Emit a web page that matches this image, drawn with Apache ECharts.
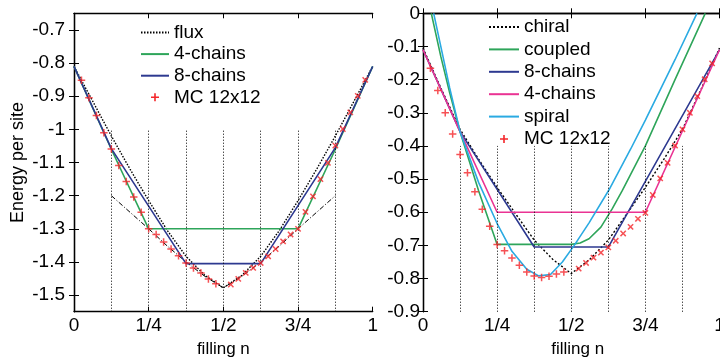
<!DOCTYPE html>
<html><head><meta charset="utf-8">
<script src="https://cdn.jsdelivr.net/npm/echarts@6/dist/echarts.min.js"></script>
<style>html,body{margin:0;padding:0;background:#fff}#c{width:720px;height:358px}</style>
</head><body><div id="c"></div>
<script>
// ---- tick labels ----
const xTickValues = [0, 0.25, 0.5, 0.75, 1];
const xTickLabels = ['0', '1/4', '1/2', '3/4', '1'];
const leftYTicks = [-1.5, -1.4, -1.3, -1.2, -1.1, -1, -0.9, -0.8, -0.7];
const rightYTicks = [-0.9, -0.8, -0.7, -0.6, -0.5, -0.4, -0.3, -0.2, -0.1, 0];
const guideN = [0.125, 0.25, 0.375, 0.5, 0.625, 0.75, 0.875];
const leftGuideTop = -1.0;
const rightGuideTop = -0.4;

// ---- left panel ----
const fluxN = [0, 0.0625, 0.125, 0.1875, 0.25, 0.3125, 0.375, 0.4375, 0.5, 0.5625, 0.625, 0.6875, 0.75, 0.8125, 0.875, 0.9375, 1];
const fluxE = [-0.81, -0.915, -1.02, -1.12, -1.215, -1.305, -1.383, -1.44, -1.478, -1.44, -1.383, -1.305, -1.215, -1.12, -1.02, -0.915, -0.81];
const fluxRefN = [0.125, 0.1875, 0.25, 0.3125, 0.375, 0.4375, 0.5, 0.5625, 0.625, 0.6875, 0.75, 0.8125, 0.875];
const fluxRefE = [-1.2, -1.25, -1.3, -1.352, -1.4, -1.443, -1.478, -1.443, -1.4, -1.352, -1.3, -1.25, -1.2];
const left4N = [0, 0.125, 0.25, 0.75, 0.875, 1];
const left4E = [-0.81, -1.06, -1.30, -1.30, -1.06, -0.81];
const left8N = [0, 0.125, 0.375, 0.625, 0.875, 1];
const left8E = [-0.81, -1.058, -1.405, -1.405, -1.055, -0.81];
const leftMcAN = [0.025, 0.05, 0.075, 0.1, 0.125, 0.15, 0.175, 0.2, 0.225, 0.25, 0.275, 0.3, 0.325, 0.35, 0.375, 0.4, 0.425, 0.45, 0.475];
const leftMcAE = [-0.852, -0.905, -0.958, -1.010, -1.059, -1.109, -1.157, -1.204, -1.250, -1.300, -1.317, -1.340, -1.361, -1.381, -1.403, -1.418, -1.433, -1.451, -1.466];
const leftMcBN = [0.525, 0.55, 0.575, 0.6, 0.625, 0.65, 0.675, 0.7, 0.725, 0.75, 0.775, 0.8, 0.825, 0.85, 0.875, 0.9, 0.925, 0.95, 0.975];
const leftMcBE = [-1.468, -1.451, -1.433, -1.418, -1.403, -1.383, -1.361, -1.338, -1.317, -1.300, -1.249, -1.202, -1.150, -1.101, -1.049, -0.999, -0.949, -0.899, -0.851];

// ---- right panel ----
const chiralN = [0, 0.0625, 0.125, 0.1875, 0.25, 0.3125, 0.375, 0.4375, 0.5, 0.5625, 0.625, 0.6875, 0.75, 0.8125, 0.875, 0.9375, 1];
const chiralE = [-0.105, -0.23, -0.35, -0.44, -0.525, -0.605, -0.684, -0.742, -0.785, -0.742, -0.684, -0.605, -0.525, -0.44, -0.35, -0.23, -0.105];
const coupledN = [0.028, 0.06, 0.09, 0.125, 0.1875, 0.25, 0.5, 0.53, 0.56, 0.6, 0.638, 0.672, 0.75, 0.85, 0.952];
const coupledE = [0, -0.13, -0.24, -0.357, -0.535, -0.697, -0.697, -0.693, -0.68, -0.645, -0.59, -0.535, -0.40, -0.20, 0];
const right8N = [0, 0.125, 0.375, 0.625, 1];
const right8E = [-0.11, -0.357, -0.705, -0.705, -0.11];
const right4N = [0, 0.125, 0.25, 0.75, 0.875, 1];
const right4E = [-0.11, -0.357, -0.60, -0.60, -0.355, -0.11];
const spiralN = [0.036, 0.06, 0.09, 0.125, 0.1875, 0.25, 0.3, 0.35, 0.39, 0.43, 0.47, 0.51, 0.56, 0.627, 0.7, 0.75, 0.85, 0.924];
const spiralE = [0, -0.1, -0.225, -0.357, -0.51, -0.634, -0.718, -0.772, -0.792, -0.788, -0.75, -0.70, -0.632, -0.533, -0.41, -0.322, -0.14, 0];
const rightMcAN = [0.025, 0.05, 0.075, 0.1, 0.125, 0.15, 0.175, 0.2, 0.225, 0.25, 0.275, 0.3, 0.325, 0.35, 0.375, 0.4, 0.425, 0.45, 0.475];
const rightMcAE = [-0.166, -0.233, -0.300, -0.364, -0.426, -0.481, -0.538, -0.591, -0.642, -0.697, -0.716, -0.738, -0.760, -0.780, -0.792, -0.797, -0.793, -0.786, -0.780];
const rightMcBN = [0.525, 0.55, 0.575, 0.6, 0.625, 0.65, 0.675, 0.7, 0.725, 0.75, 0.775, 0.8, 0.825, 0.85, 0.875, 0.9, 0.925, 0.95, 0.975];
const rightMcBE = [-0.770, -0.753, -0.737, -0.722, -0.706, -0.686, -0.664, -0.644, -0.620, -0.602, -0.548, -0.498, -0.451, -0.399, -0.350, -0.300, -0.250, -0.199, -0.151];

const FONT = 'Liberation Sans, Arial, Helvetica, sans-serif';
const GREEN = '#2ea55a', NAVY = '#2d3990', PINK = '#ea3393', SKY = '#2aaae2', RED = '#f4262a';
const PLUS = 'path://M4,0H6V4H10V6H6V10H4V6H0V4H4Z';
const zip = (a, b) => a.map((v, i) => [v, b[i]]);
const fmtY = v => String(parseFloat(v.toFixed(2)));
const fmtX = v => { const i = xTickValues.findIndex(t => Math.abs(t - v) < 1e-9); return i >= 0 ? xTickLabels[i] : ''; };

function xAxes(g, nameShift) {
  const base = {
    gridIndex: g, type: 'value', min: 0, max: 1, interval: 0.25,
    axisLine: { show: true, lineStyle: { color: '#000', width: 1.3 } },
    axisTick: { show: true, inside: true, length: 5, lineStyle: { color: '#000', width: 1 } },
    splitLine: { show: false }
  };
  return [
    Object.assign({}, base, {
      position: 'bottom',
      axisLabel: { formatter: fmtX, fontSize: 19, color: '#000', margin: 5, fontFamily: FONT, showMaxLabel: true, showMinLabel: true },
      name: 'filling n', nameLocation: 'middle', nameGap: 20,
      nameTextStyle: { fontSize: 17, color: '#000', fontFamily: FONT, padding: [0, 0, 0, nameShift] }
    }),
    Object.assign({}, base, { position: 'top', axisLabel: { show: false } })
  ];
}
function yAxes(g, min, max, ticks, margin, withName) {
  const base = {
    gridIndex: g, type: 'value', min: min, max: max,
    axisLine: { show: true, lineStyle: { color: '#000', width: 1.3 } },
    axisTick: { show: true, inside: true, length: 5, customValues: ticks, lineStyle: { color: '#000', width: 1 } },
    splitLine: { show: false }
  };
  const main = Object.assign({}, base, {
    position: 'left',
    axisLabel: { customValues: ticks, formatter: fmtY, fontSize: 19, color: '#000', margin: margin, fontFamily: FONT }
  });
  if (withName) Object.assign(main, {
    name: 'Energy per site', nameLocation: 'middle', nameGap: 47,
    nameTextStyle: { fontSize: 18, color: '#000', fontFamily: FONT }
  });
  return [main, Object.assign({}, base, { position: 'right', axisLabel: { show: false } })];
}
function guides(xi, yi, bottom, top) {
  return {
    type: 'line', xAxisIndex: xi, yAxisIndex: yi, data: [], silent: true,
    markLine: {
      silent: true, symbol: ['none', 'none'], label: { show: false }, animation: false,
      lineStyle: { color: '#000', width: 1, type: [1, 2] },
      emphasis: { disabled: true },
      data: guideN.map(n => [{ coord: [n, bottom] }, { coord: [n, top] }])
    }
  };
}
function line(name, xi, yi, N, E, color, width, type) {
  return {
    type: 'line', name: name, xAxisIndex: xi, yAxisIndex: yi, data: zip(N, E),
    symbol: 'none', showSymbol: false, silent: true,
    lineStyle: { color: color, width: width, type: type || 'solid' }, itemStyle: { color: color }
  };
}
function mc(name, xi, yi, N, E, rot) {
  return {
    type: 'scatter', name: name, xAxisIndex: xi, yAxisIndex: yi, data: zip(N, E),
    symbol: PLUS, symbolSize: 7.5, symbolRotate: rot, itemStyle: { color: RED }, silent: true, z: 5
  };
}
const NOICON = { color: 'rgba(0,0,0,0)', borderWidth: 0, opacity: 0 };
const legendItems = names => names.map(n => n.indexOf('MC') === 0
  ? { name: n, itemStyle: { color: RED, opacity: 1 } }
  : { name: n });

const option = {
  animation: false,
  backgroundColor: '#fff',
  textStyle: { fontFamily: FONT },
  grid: [
    { left: 74, top: 13.3, width: 298.7, height: 298.4, containLabel: false, outerBoundsMode: 'none' },
    { left: 423, top: 13.3, width: 296.5, height: 298.4, containLabel: false, outerBoundsMode: 'none' }
  ],
  xAxis: xAxes(0, 0).concat(xAxes(1, 13)),
  yAxis: yAxes(0, -1.55, -0.65, leftYTicks, 9, true).concat(yAxes(1, -0.9, 0, rightYTicks, 3, false)),
  legend: [
    {
      data: legendItems(['flux', '4-chains', '8-chains', 'MC 12x12']), orient: 'vertical', left: 135, top: 18,
      itemWidth: 28, itemHeight: 8, itemGap: 2.6, selectedMode: false, itemStyle: NOICON,
      textStyle: { fontSize: 19, color: '#000', fontFamily: FONT }
    },
    {
      data: legendItems(['chiral', 'coupled', '8-chains\u00a0', '4-chains\u00a0', 'spiral', 'MC 12x12\u00a0']), orient: 'vertical', left: 483, top: 12.5,
      itemWidth: 30, itemHeight: 8, itemGap: 3.4, selectedMode: false, itemStyle: NOICON,
      textStyle: { fontSize: 19, color: '#000', fontFamily: FONT }
    }
  ],
  series: [
    guides(0, 0, -1.55, leftGuideTop),
    line('flux', 0, 0, fluxN, fluxE, '#000', 1.4, [1.5, 1.5]),
    line('fluxref', 0, 0, fluxRefN, fluxRefE, '#000', 1, [5, 2, 1, 2]),
    line('4-chains', 0, 0, left4N, left4E, GREEN, 1.6),
    line('8-chains', 0, 0, left8N, left8E, NAVY, 1.6),
    mc('MC 12x12', 0, 0, leftMcAN, leftMcAE, 0),
    mc('mcL2', 0, 0, leftMcBN, leftMcBE, 45),

    guides(2, 2, -0.9, rightGuideTop),
    line('chiral', 2, 2, chiralN, chiralE, '#000', 1.4, [2, 2]),
    line('coupled', 2, 2, coupledN, coupledE, GREEN, 1.6),
    line('8-chains\u00a0', 2, 2, right8N, right8E, NAVY, 1.6),
    line('4-chains\u00a0', 2, 2, right4N, right4E, PINK, 1.6),
    line('spiral', 2, 2, spiralN, spiralE, SKY, 1.6),
    mc('MC 12x12\u00a0', 2, 2, rightMcAN, rightMcAE, 0),
    mc('mcR2', 2, 2, rightMcBN, rightMcBE, 45)
  ]
};
const chart = echarts.init(document.getElementById('c'), null, { renderer: 'canvas' });
chart.setOption(option);
</script></body></html>
